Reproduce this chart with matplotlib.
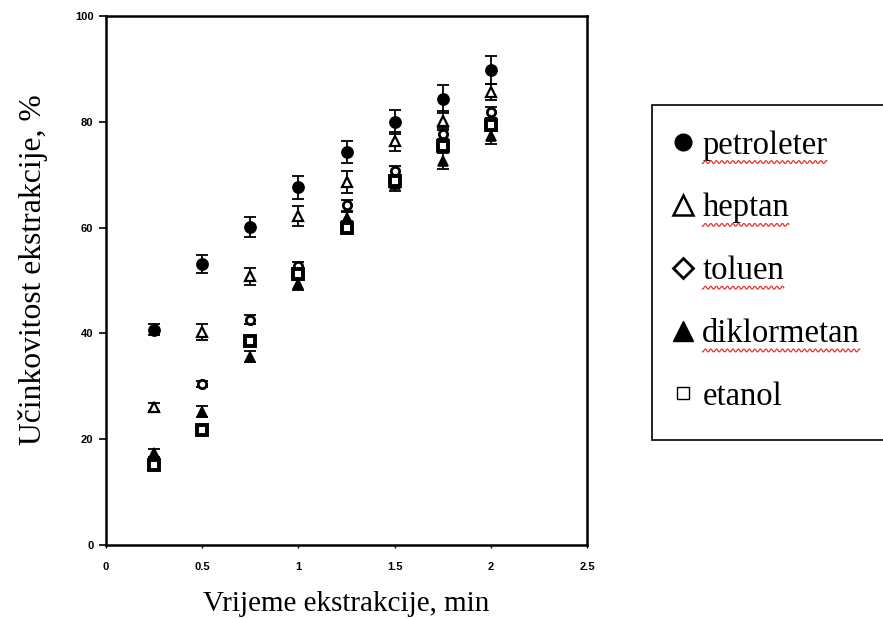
import matplotlib
matplotlib.use("Agg")
import numpy as np
import matplotlib.pyplot as plt
from matplotlib.lines import Line2D
from matplotlib.patches import Rectangle
from matplotlib.transforms import IdentityTransform

# ---- data ----
time_min = [0.25, 0.5, 0.75, 1.0, 1.25, 1.5, 1.75, 2.0]

petroleter = [40.7, 53.2, 60.2, 67.6, 74.3, 80.0, 84.3, 89.8]
petroleter_err = [1.0, 1.7, 1.9, 2.1, 2.1, 2.3, 2.6, 2.6]

heptan = [26.1, 40.2, 50.8, 62.2, 68.6, 76.3, 80.2, 85.6]
heptan_err = [0.8, 1.5, 1.6, 1.9, 2.1, 1.8, 1.8, 1.5]

toluen = [15.6, 30.4, 42.6, 52.7, 64.2, 70.7, 77.8, 81.8]
toluen_err = [0.5, 0.6, 0.8, 0.8, 1.0, 1.0, 1.0, 1.0]

diklormetan = [17.4, 25.2, 35.6, 49.3, 61.8, 68.2, 72.6, 77.3]
diklormetan_err = [0.8, 1.0, 1.0, 1.0, 1.2, 1.2, 1.5, 1.5]

etanol = [15.2, 21.8, 38.6, 51.2, 60.0, 68.8, 75.5, 79.5]
etanol_err = [0.8, 0.8, 1.0, 1.0, 1.2, 1.2, 1.2, 1.2]

labels = ["petroleter", "heptan", "toluen", "diklormetan", "etanol"]
spellcheck_flagged = ["petroleter", "heptan", "toluen", "diklormetan"]

x_ticks = [0, 0.5, 1, 1.5, 2, 2.5]
x_ticklabels = ["0", "0.5", "1", "1.5", "2", "2.5"]
y_ticks = [0, 20, 40, 60, 80, 100]

# ---- figure ----
fig = plt.figure(figsize=(8.83, 6.19), dpi=100)
ax = fig.add_axes([0.120, 0.1195, 0.545, 0.8545])

series = [
    (petroleter, petroleter_err, dict(marker="o", ms=8, mfc="black", mec="black", mew=1.2)),
    (heptan, heptan_err, dict(marker="^", ms=7.5, mfc="white", mec="black", mew=1.6)),
    (toluen, toluen_err, dict(marker="o", ms=6, mfc="white", mec="black", mew=2.0)),
    (diklormetan, diklormetan_err, dict(marker="^", ms=7.5, mfc="black", mec="black", mew=1.2)),
    (etanol, etanol_err, dict(marker="s", ms=6.5, mfc="white", mec="black", mew=2.8)),
]
for vals, err, st in series:
    ax.errorbar(time_min, vals, yerr=err, fmt="none", ecolor="black",
                elinewidth=1.3, capsize=4, capthick=1.3, zorder=2)
    ax.plot(time_min, vals, linestyle="none", zorder=3, **st)

ax.set_xlim(0, 2.5)
ax.set_ylim(0, 100)
ax.set_xticks(x_ticks)
ax.set_xticklabels(x_ticklabels)
ax.set_yticks(y_ticks)
for lab in ax.get_xticklabels() + ax.get_yticklabels():
    lab.set_fontfamily("Liberation Sans")
    lab.set_fontweight("bold")
    lab.set_fontsize(8)
ax.tick_params(axis="y", direction="out", length=5, width=1.2, pad=4)
ax.tick_params(axis="x", direction="out", length=2, width=1.0, pad=10)
for sp in ax.spines.values():
    sp.set_linewidth(1.8)
    sp.set_color("black")

ax.set_xlabel("Vrijeme ekstrakcije, min", fontfamily="Liberation Serif",
              fontsize=21, labelpad=14)
ax.set_ylabel("Učinkovitost ekstrakcije, %", fontfamily="Liberation Serif",
              fontsize=22.8)
ax.yaxis.set_label_coords(-0.121, 0.52)

# ---- legend ----
fig.add_artist(Rectangle((0.738, 0.289), 0.30, 0.541, transform=fig.transFigure,
                         facecolor="white", edgecolor="black", lw=1.2, zorder=4))
handles = [
    Line2D([], [], linestyle="none", marker="o", ms=12, mfc="black", mec="black"),
    Line2D([], [], linestyle="none", marker="^", ms=14, mfc="white", mec="black", mew=1.8),
    Line2D([], [], linestyle="none", marker="D", ms=10, mfc="white", mec="black", mew=2.0),
    Line2D([], [], linestyle="none", marker="^", ms=14, mfc="black", mec="black"),
    Line2D([], [], linestyle="none", marker="s", ms=8, mfc="white", mec="black", mew=1.0),
]
leg = fig.legend(handles, labels, loc="upper left",
                 bbox_to_anchor=(0.7407, 0.811),
                 frameon=False,
                 prop={"family": "Liberation Serif", "size": 23.5},
                 labelspacing=0.99, handletextpad=0.08, handlelength=1.0,
                 borderpad=0.4, borderaxespad=0)
leg.set_zorder(6)

# red wavy spell-check underlines (word-processor artefact in the original)
fig.canvas.draw()
for t in leg.get_texts():
    if t.get_text() in spellcheck_flagged:
        bb = t.get_window_extent()
        xs = np.arange(bb.x0, bb.x1, 0.5)
        ys = bb.y0 - 1.5 + 1.4 * np.sin(xs * 2 * np.pi / 5.5)
        fig.add_artist(Line2D(xs, ys, transform=IdentityTransform(),
                              color="#e8332a", lw=0.9, zorder=10))

fig.savefig("out.png", dpi=100)
